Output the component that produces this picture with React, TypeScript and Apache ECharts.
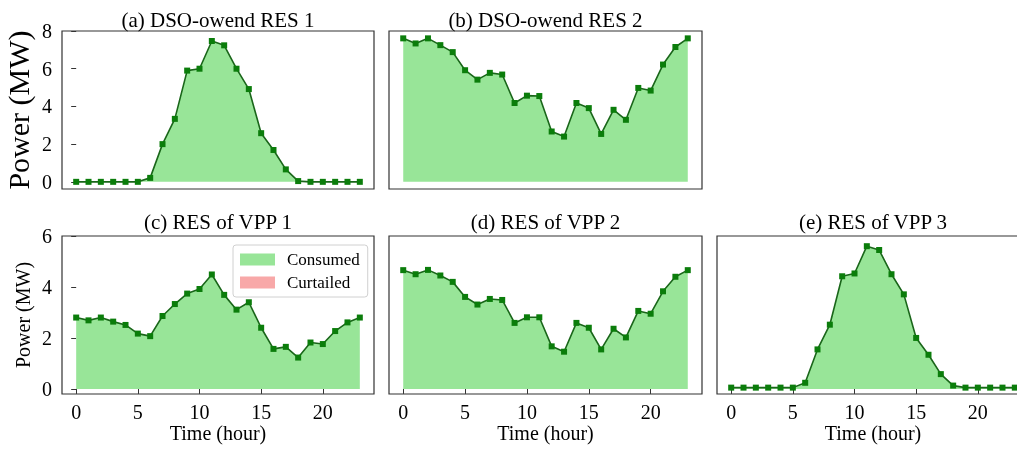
import React, { useEffect, useRef } from "react";
import * as echarts from "echarts";

const hours = [0, 1, 2, 3, 4, 5, 6, 7, 8, 9, 10, 11, 12, 13, 14, 15, 16, 17, 18, 19, 20, 21, 22, 23];
const resA = [0, 0, 0, 0, 0, 0, 0.21, 2.0, 3.34, 5.9, 6.0, 7.47, 7.24, 6.0, 4.92, 2.58, 1.69, 0.66, 0.04, 0, 0, 0, 0, 0];
const resB = [7.61, 7.34, 7.61, 7.25, 6.88, 5.92, 5.42, 5.78, 5.69, 4.18, 4.57, 4.55, 2.67, 2.4, 4.18, 3.91, 2.54, 3.82, 3.29, 4.98, 4.84, 6.22, 7.15, 7.61];
const resC = [2.8, 2.69, 2.8, 2.64, 2.51, 2.17, 2.07, 2.86, 3.33, 3.74, 3.92, 4.49, 3.69, 3.11, 3.4, 2.4, 1.57, 1.65, 1.23, 1.82, 1.76, 2.27, 2.61, 2.8];
const resD = [4.66, 4.5, 4.67, 4.45, 4.2, 3.61, 3.31, 3.53, 3.49, 2.59, 2.81, 2.81, 1.67, 1.46, 2.59, 2.4, 1.55, 2.36, 2.02, 3.06, 2.95, 3.83, 4.4, 4.66];
const resE = [0.05, 0.05, 0.05, 0.05, 0.05, 0.05, 0.24, 1.55, 2.52, 4.42, 4.53, 5.6, 5.45, 4.5, 3.71, 2.0, 1.34, 0.58, 0.13, 0.05, 0.05, 0.05, 0.05, 0.05];
const curtailed: number[] = [];

const titles = ["(a) DSO-owend RES 1", "(b) DSO-owend RES 2", "(c) RES of VPP 1", "(d) RES of VPP 2", "(e) RES of VPP 3"];
const xTicks = [0, 5, 10, 15, 20];
const yTicksTop = [0, 2, 4, 6, 8];
const yTicksBottom = [0, 2, 4, 6];
const legendNames = ["Consumed", "Curtailed"];

export default function App() {
  const ref = useRef<HTMLDivElement>(null);
  useEffect(() => {
    const chart = echarts.init(ref.current!, null, { renderer: "svg" });
    const FONT = "Liberation Serif";
    const FILL = "#98e598";
    const LINE = "#1a661a";
    const MARK = "#0b7d0b";
    const panels = [
      { data: resA, left: 62, top: 31, width: 312, row: 0, showY: true, showX: false, yName: 30 },
      { data: resB, left: 389, top: 31, width: 313, row: 0, showY: false, showX: false, yName: 0 },
      { data: resC, left: 62, top: 236, width: 312, row: 1, showY: true, showX: true, yName: 20 },
      { data: resD, left: 389, top: 236, width: 313, row: 1, showY: false, showX: true, yName: 0 },
      { data: resE, left: 717, top: 236, width: 312, row: 1, showY: false, showX: true, yName: 0 },
    ];
    const H = 158;
    const grid = panels.map((p) => ({
      left: p.left,
      top: p.top,
      width: p.width,
      height: H,
      show: true,
      borderColor: "#333",
      borderWidth: 1.2,
      backgroundColor: "transparent",
      containLabel: false,
      outerBoundsMode: "none",
    }));
    const xAxis = panels.map((p, i) => ({
      type: "value",
      gridIndex: i,
      min: -1.15,
      max: 24.15,
      axisLine: { show: false },
      splitLine: { show: false },
      axisTick: { show: p.showX, customValues: xTicks, length: 5, lineStyle: { color: "#333" } },
      axisLabel: { show: p.showX, customValues: xTicks, fontSize: 20, fontFamily: FONT, color: "#000", margin: 8 },
      name: p.showX ? "Time (hour)" : "",
      nameLocation: "middle",
      nameGap: 29,
      nameTextStyle: { fontSize: 20, fontFamily: FONT, color: "#000" },
    }));
    const yAxis = panels.map((p, i) => ({
      type: "value",
      gridIndex: i,
      min: p.row === 0 ? -0.38 : -0.2,
      max: p.row === 0 ? 8 : 6,
      axisLine: { show: false },
      splitLine: { show: false },
      axisTick: { show: p.showY, customValues: p.row === 0 ? yTicksTop : yTicksBottom, length: 5, lineStyle: { color: "#333" } },
      axisLabel: { show: p.showY, customValues: p.row === 0 ? yTicksTop : yTicksBottom, fontSize: 20, fontFamily: FONT, color: "#000", margin: 10 },
      name: p.showY ? "Power (MW)" : "",
      nameLocation: "middle",
      nameGap: p.row === 0 ? 29 : 29,
      nameTextStyle: { fontSize: p.yName || 20, fontFamily: FONT, color: "#000" },
    }));
    const series: any[] = panels.map((p, i) => ({
      type: "line",
      name: i === 2 ? legendNames[0] : "RES " + i,
      xAxisIndex: i,
      yAxisIndex: i,
      data: hours.map((h, k) => [h, p.data[k]]),
      symbol: "rect",
      symbolSize: 6,
      showSymbol: true,
      lineStyle: { color: LINE, width: 1.6 },
      itemStyle: { color: MARK },
      areaStyle: { color: FILL, opacity: 1, origin: 0 },
      z: 2,
    }));
    series.push({
      type: "line",
      name: legendNames[1],
      xAxisIndex: 2,
      yAxisIndex: 2,
      data: curtailed,
      itemStyle: { color: "#f8a8a8" },
    });
    const graphic = panels.map((p, i) => ({
      type: "text",
      x: p.left + p.width / 2,
      y: p.row === 0 ? 20 : 222,
      style: {
        text: titles[i],
        textAlign: "center",
        textVerticalAlign: "middle",
        fontSize: 21,
        fontFamily: FONT,
        fill: "#000",
      },
    }));
    chart.setOption({
      animation: false,
      grid,
      xAxis,
      yAxis,
      series,
      graphic,
      legend: {
        left: 233,
        top: 245,
        orient: "vertical",
        selectedMode: false,
        itemWidth: 35,
        itemHeight: 12,
        itemGap: 6,
        padding: [6, 8, 6, 7],
        borderColor: "#d0d0d0",
        borderWidth: 1,
        borderRadius: 3,
        backgroundColor: "rgba(255,255,255,0.85)",
        textStyle: { fontSize: 17, fontFamily: FONT, color: "#000", padding: [0, 0, 0, 7] },
        data: [
          { name: legendNames[0], icon: "rect", itemStyle: { color: FILL, borderWidth: 0 } },
          { name: legendNames[1], icon: "rect", itemStyle: { color: "#f8a8a8", borderWidth: 0 } },
        ],
      },
    } as any);
    return () => chart.dispose();
  }, []);
  return <div ref={ref} style={{ position: "fixed", left: 0, top: 0, width: 1017, height: 454 }} />;
}
